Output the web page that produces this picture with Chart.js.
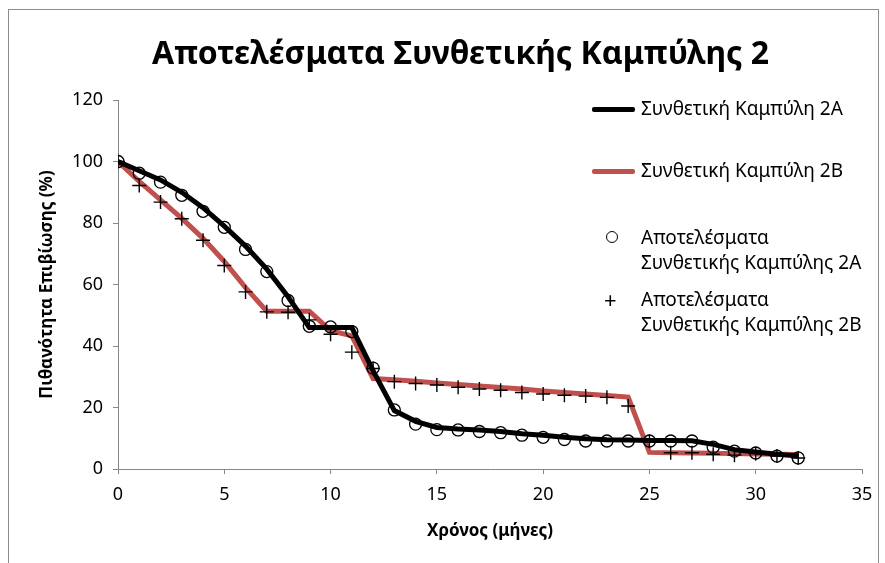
<!DOCTYPE html>
<html><head><meta charset="utf-8">
<script src="https://cdn.jsdelivr.net/npm/chart.js@4/dist/chart.umd.min.js"></script>
<style>
html,body{margin:0;padding:0;background:#fff;}
#wrap{position:relative;width:885px;height:563px;overflow:hidden;}
#frame{position:absolute;left:8px;top:9px;width:871px;height:600px;border:1px solid #8c8c8c;box-sizing:border-box;}
canvas{position:absolute;left:0;top:0;}
#title{position:absolute;left:152px;width:600px;top:30px;text-align:center;font-family:"Noto Sans",sans-serif;font-weight:bold;font-size:32px;line-height:44px;color:#000;white-space:nowrap;}
.lg{position:absolute;font-family:"Noto Sans",sans-serif;font-size:19px;color:#000;line-height:25px;white-space:nowrap;}
.ln{position:absolute;height:5px;width:43px;border-radius:2px;}
.mk{position:absolute;font-family:"Noto Sans",sans-serif;}
</style></head><body>
<div id="wrap">
<div id="frame"></div>
<canvas id="c" width="885" height="563"></canvas>
<div id="title">Αποτελέσματα Συνθετικής Καμπύλης 2</div>
<div class="ln" style="left:592px;top:107px;background:#000"></div>
<div class="lg" style="left:641px;top:96px">Συνθετική Καμπύλη 2A</div>
<div class="ln" style="left:592px;top:169px;background:#c0504d"></div>
<div class="lg" style="left:641px;top:158px">Συνθετική Καμπύλη 2B</div>
<div class="mk" style="left:606px;top:231px;width:10px;height:10px;border:1.4px solid #000;border-radius:50%;"></div>
<div class="lg" style="left:641px;top:225px">Αποτελέσματα<br>Συνθετικής Καμπύλης 2A</div>
<div class="mk" style="left:604px;top:286px;font-size:22px;line-height:26px;">+</div>
<div class="lg" style="left:641px;top:287px">Αποτελέσματα<br>Συνθετικής Καμπύλης 2B</div>
</div>
<script>
const months = [0,1,2,3,4,5,6,7,8,9,10,11,12,13,14,15,16,17,18,19,20,21,22,23,24,25,26,27,28,29,30,31,32];
const curve2A = [100,97,94,90,85,79,72.5,65,56,46,46,46,32,19,15.5,13.5,13,12.7,12.2,11.5,11,10.3,9.8,9.5,9.4,9.3,9.3,9.2,8,6.3,5.5,4.8,4.2];
const curve2B = [100,93.5,87.5,81.5,75,67.5,59,51.3,51.3,51.3,45,43.3,29.4,29,28.5,28,27.5,27,26.5,26,25.4,24.9,24.4,23.9,23.4,5.4,5.3,5.2,5.1,5,4.9,4.8,4.7];
const results2A = [100,96.2,93.3,89,83.8,78.6,71.4,64.2,54.8,46.4,46.2,44.7,32.8,19.2,14.6,12.8,12.7,12.2,11.8,11,10.3,9.6,9.1,9.1,9.1,9.1,9.1,9.1,7.1,5.8,5.2,4.2,3.6];
const results2B = [100,92.2,86.8,81.4,74.4,66.2,57.6,51.1,51,48.5,43.8,38,32.7,28.4,27.8,27.3,26.6,26,25.6,24.9,24.4,24,23.7,23.3,20.5,9,5.3,5.3,4.8,4.5,5,4.2,3.6];
const xTicks = [0,5,10,15,20,25,30,35];
const yTicks = [0,20,40,60,80,100,120];
const labels = ['Συνθετική Καμπύλη 2A','Συνθετική Καμπύλη 2B','Αποτελέσματα Συνθετικής Καμπύλης 2A','Αποτελέσματα Συνθετικής Καμπύλης 2B'];

const pts = arr => months.map((m,i)=>({x:m,y:arr[i]}));
const axisColor = '#868686';
const tickFont = {family:'"Noto Sans", sans-serif', size:18};
const titleFont = {family:'"Noto Sans", sans-serif', size:17, weight:'bold', lineHeight:1.2};
new Chart(document.getElementById('c'), {
  type:'scatter',
  data:{datasets:[
    {label:labels[2],data:pts(results2A),showLine:false,pointStyle:'circle',pointRadius:6,borderColor:'#000',backgroundColor:'rgba(0,0,0,0)',borderWidth:1.3,order:0},
    {label:labels[3],data:pts(results2B),showLine:false,pointStyle:'cross',pointRadius:7,borderColor:'#000',borderWidth:1.4,order:0},
    {label:labels[0],data:pts(curve2A),showLine:true,pointRadius:0,borderColor:'#000',borderWidth:5,tension:0,order:2},
    {label:labels[1],data:pts(curve2B),showLine:true,pointRadius:0,borderColor:'#c0504d',borderWidth:5,tension:0,order:3}
  ]},
  options:{
    responsive:false,animation:false,
    layout:{padding:{left:0,right:23,top:100,bottom:0}},
    plugins:{legend:{display:false},tooltip:{enabled:false},title:{display:false}},
    scales:{
      x:{type:'linear',min:0,max:35,
        afterBuildTicks:s=>{s.ticks=xTicks.map(v=>({value:v}));},
        afterFit:s=>{s.height=94;},
        grid:{drawOnChartArea:false,drawTicks:true,tickLength:5,color:axisColor},
        border:{color:axisColor,width:1},
        ticks:{color:'#000',font:tickFont,padding:10,maxRotation:0},
        title:{display:true,text:'Χρόνος (μήνες)',color:'#000',font:titleFont,padding:{bottom:21.8}}
      },
      y:{type:'linear',min:0,max:120,
        afterBuildTicks:s=>{s.ticks=yTicks.map(v=>({value:v}));},
        afterFit:s=>{s.width=118;},
        grid:{drawOnChartArea:false,drawTicks:true,tickLength:5,color:axisColor},
        border:{color:axisColor,width:1},
        ticks:{color:'#000',font:tickFont,padding:10},
        title:{display:true,text:'Πιθανότητα Επιβίωσης (%)',color:'#000',font:titleFont,padding:{top:36.8}}
      }
    }
  }
});
</script>
</body></html>
